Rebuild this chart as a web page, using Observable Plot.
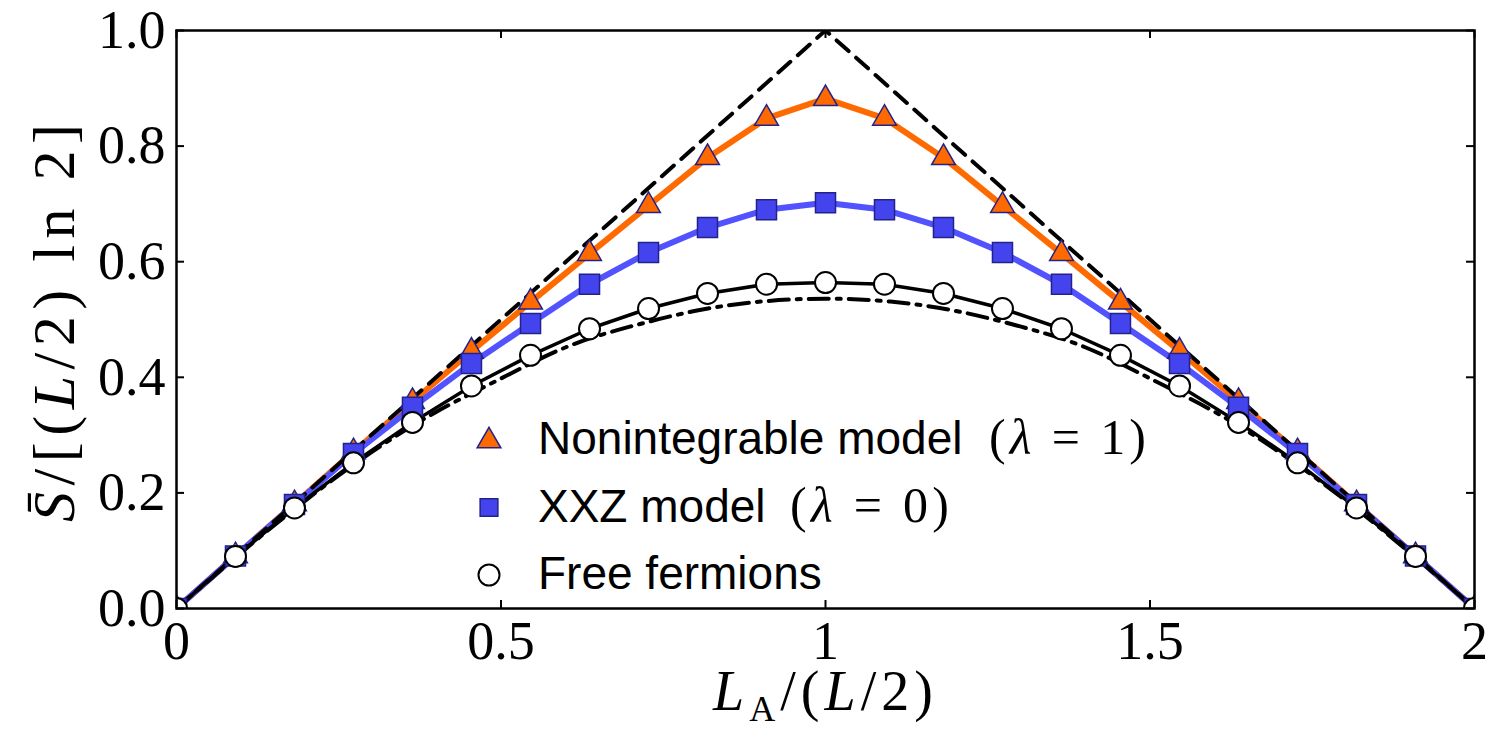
<!DOCTYPE html>
<html>
<head>
<meta charset="utf-8">
<script src="https://cdn.jsdelivr.net/npm/d3@7"></script>
<script src="https://cdn.jsdelivr.net/npm/@observablehq/plot@0.6"></script>
<style>
  html, body { margin: 0; padding: 0; background: white; }
  #chart { width: 1491px; height: 731px; }
</style>
</head>
<body>
<div id="chart"></div>
<script>
// x = L_A / (L/2)
const xVals = [0, 0.0909, 0.1818, 0.2727, 0.3636, 0.4545, 0.5455, 0.6364, 0.7273, 0.8182, 0.9091, 1.0,
               1.0909, 1.1818, 1.2727, 1.3636, 1.4545, 1.5455, 1.6364, 1.7273, 1.8182, 1.9091, 2.0];
// Nonintegrable model (lambda = 1)
const nonintY = [0, 0.091, 0.181, 0.271, 0.358, 0.445, 0.530, 0.614, 0.697, 0.780, 0.848, 0.882,
                 0.848, 0.780, 0.697, 0.614, 0.530, 0.445, 0.358, 0.271, 0.181, 0.091, 0];
// XXZ model (lambda = 0)
const xxzY = [0, 0.091, 0.180, 0.268, 0.348, 0.424, 0.493, 0.561, 0.616, 0.659, 0.690, 0.702,
              0.690, 0.659, 0.616, 0.561, 0.493, 0.424, 0.348, 0.268, 0.180, 0.091, 0];
// Free fermions
const freeY = [0, 0.090, 0.174, 0.252, 0.322, 0.385, 0.438, 0.484, 0.519, 0.545, 0.561, 0.564,
               0.561, 0.545, 0.519, 0.484, 0.438, 0.385, 0.322, 0.252, 0.174, 0.090, 0];
// Page value (dashed)
const pageX = [0, 1, 2];
const pageY = [0, 1, 0];
// Free-fermion thermodynamic-limit curve (dash-dot)
const curveX = [0, 0.1, 0.2, 0.3, 0.4, 0.5, 0.6, 0.7, 0.8, 0.9, 1.0, 1.1, 1.2, 1.3, 1.4, 1.5, 1.6, 1.7, 1.8, 1.9, 2.0];
const curveY = [0, 0.097, 0.188, 0.270, 0.340, 0.398, 0.452, 0.488, 0.515, 0.531, 0.536,
                0.531, 0.515, 0.488, 0.452, 0.398, 0.340, 0.270, 0.188, 0.097, 0];

const xTicks = [0, 0.5, 1, 1.5, 2];
const xTickLabels = ["0", "0.5", "1", "1.5", "2"];
const yTicks = [0, 0.2, 0.4, 0.6, 0.8, 1.0];
const yTickLabels = ["0.0", "0.2", "0.4", "0.6", "0.8", "1.0"];

const legendLabels = ["Nonintegrable model", "XXZ model", "Free fermions"];
const legendMath = ["1", "0", null];

const orange = "#ff6a00";
const blueLine = "#5252ff";
const blueFill = "#4444ee";
const navy = "#22228a";

const tri = xVals.map((x, i) => ({x, y: nonintY[i]}));
const sq = xVals.map((x, i) => ({x, y: xxzY[i]}));
const circ = xVals.map((x, i) => ({x, y: freeY[i]}));
const page = pageX.map((x, i) => ({x, y: pageY[i]}));
const ff = curveX.map((x, i) => ({x, y: curveY[i]}));

const W = 1491, H = 731, mL = 176, mR = 17, mT = 30, mB = 123;
const fw = W - mL - mR, fh = H - mT - mB;

const svg = Plot.plot({
  width: W, height: H,
  marginLeft: mL, marginRight: mR, marginTop: mT, marginBottom: mB,
  x: {domain: [0, 2]},
  y: {domain: [0, 1]},
  style: {background: "white", fontFamily: "Liberation Serif", color: "black", overflow: "visible"},
  marks: [
    Plot.line(tri, {x: "x", y: "y", stroke: orange, strokeWidth: 6, clip: true}),
    Plot.line(sq, {x: "x", y: "y", stroke: blueLine, strokeWidth: 6, clip: true}),
    Plot.line(circ, {x: "x", y: "y", stroke: "black", strokeWidth: 3.5, clip: true}),
    Plot.line(page, {x: "x", y: "y", stroke: "black", strokeWidth: 4, strokeDasharray: "16,10", clip: true}),
    Plot.line(ff, {x: "x", y: "y", stroke: "black", strokeWidth: 4, strokeDasharray: "20,8,4,8", curve: "natural", clip: true}),
    Plot.dot(tri, {x: "x", y: "y", symbol: "triangle", r: 8.8, fill: orange, stroke: navy, strokeWidth: 1.5, clip: true}),
    Plot.dot(sq, {x: "x", y: "y", symbol: "square", r: 11.3, fill: blueFill, stroke: navy, strokeWidth: 1.5, clip: true}),
    Plot.dot(circ, {x: "x", y: "y", r: 10.5, fill: "white", stroke: "black", strokeWidth: 2, clip: true}),
    Plot.frame({stroke: "black", strokeWidth: 2.5}),
    Plot.tickX(xTicks, {x: d => d, insetTop: fh - 8, stroke: "black", strokeWidth: 2}),
    Plot.tickX(xTicks, {x: d => d, insetBottom: fh - 8, stroke: "black", strokeWidth: 2}),
    Plot.tickY(yTicks, {y: d => d, insetRight: fw - 8, stroke: "black", strokeWidth: 2}),
    Plot.tickY(yTicks, {y: d => d, insetLeft: fw - 8, stroke: "black", strokeWidth: 2}),
    Plot.axisX({ticks: xTicks, tickSize: 0, tickPadding: 12, tickFormat: (d) => xTickLabels[xTicks.indexOf(d)], fontSize: 54, fontFamily: "Liberation Serif", label: null}),
    Plot.axisY({ticks: yTicks, tickSize: 0, tickPadding: 11, tickFormat: (d) => yTickLabels[yTicks.indexOf(d)], fontSize: 54, fontFamily: "Liberation Serif", label: null})
  ]
});

document.getElementById("chart").appendChild(svg);

const s = d3.select(svg);

// y-axis label
const yl = s.append("text")
  .attr("transform", "translate(74,323) rotate(-90)")
  .attr("text-anchor", "middle")
  .attr("font-family", "Liberation Serif")
  .attr("font-size", 60)
  .attr("fill", "black")
  .attr("textLength", 398)
  .attr("lengthAdjust", "spacing");
yl.append("tspan").attr("font-style", "italic").text("S\u0304");
yl.append("tspan").text("/[(");
yl.append("tspan").attr("font-style", "italic").text("L");
yl.append("tspan").text("/2) ln 2]");

// x-axis label
const xl = s.append("text")
  .attr("x", 823).attr("y", 710)
  .attr("text-anchor", "middle")
  .attr("font-family", "Liberation Serif")
  .attr("font-size", 56)
  .attr("fill", "black")
  .attr("textLength", 220)
  .attr("lengthAdjust", "spacing");
xl.append("tspan").attr("font-style", "italic").text("L");
xl.append("tspan").attr("font-size", 36).attr("dy", 11).text("A");
xl.append("tspan").attr("dy", -11).text("/(");
xl.append("tspan").attr("font-style", "italic").text("L");
xl.append("tspan").text("/2)");

// legend
const lg = s.append("g").attr("text-anchor", "start");
const rowsY = [440, 507.5, 575];
const mx = 489;
lg.append("path")
  .attr("d", d3.symbol(d3.symbolTriangle, Math.PI * 8.8 * 8.8)())
  .attr("transform", `translate(${mx},${rowsY[0] + 1})`)
  .attr("fill", orange).attr("stroke", navy).attr("stroke-width", 1.5);
lg.append("path")
  .attr("d", d3.symbol(d3.symbolSquare, Math.PI * 10 * 10)())
  .attr("transform", `translate(${mx},${rowsY[1]})`)
  .attr("fill", blueFill).attr("stroke", navy).attr("stroke-width", 1.5);
lg.append("circle")
  .attr("cx", mx).attr("cy", rowsY[2]).attr("r", 10.5)
  .attr("fill", "white").attr("stroke", "black").attr("stroke-width", 2);

const mathX = [989, 790];
const mathLen = [157, 159];
legendLabels.forEach((lab, i) => {
  lg.append("text")
    .attr("x", 538).attr("y", rowsY[i] + 14)
    .attr("text-anchor", "start")
    .attr("font-family", "Liberation Sans")
    .attr("font-size", 46)
    .attr("fill", "black")
    .text(lab);
  if (legendMath[i] !== null) {
    const t = lg.append("text")
      .attr("x", mathX[i]).attr("y", rowsY[i] + 14)
      .attr("text-anchor", "start")
      .attr("font-family", "Liberation Serif")
      .attr("font-size", 50)
      .attr("fill", "black")
      .attr("textLength", mathLen[i])
      .attr("lengthAdjust", "spacing");
    t.append("tspan").text("(");
    t.append("tspan").attr("font-style", "italic").text("\u03bb");
    t.append("tspan").text(" = " + legendMath[i] + ")");
  }
});
</script>
</body>
</html>
